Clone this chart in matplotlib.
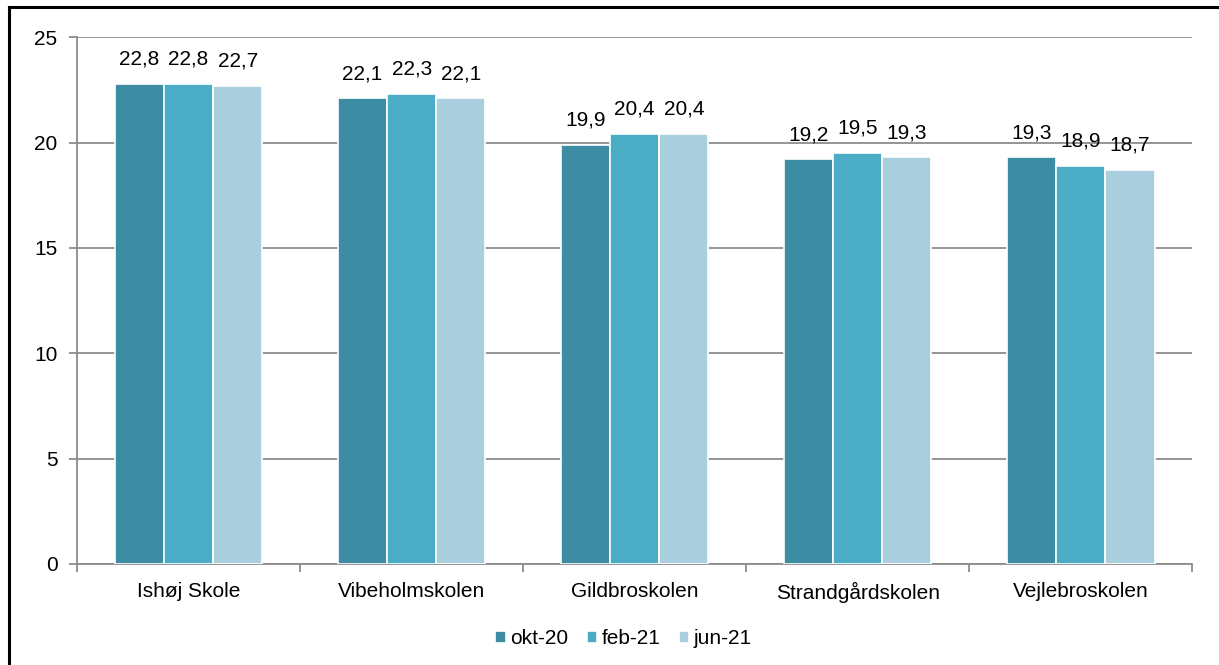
import numpy as np
import matplotlib
matplotlib.use("Agg")
import matplotlib.pyplot as plt
from matplotlib.lines import Line2D

plt.rcParams['font.family'] = ['Liberation Sans', 'DejaVu Sans']

schools = ['Ishøj Skole', 'Vibeholmskolen', 'Gildbroskolen', 'Strandgårdskolen', 'Vejlebroskolen']
periods = ['okt-20', 'feb-21', 'jun-21']
okt_20 = [22.8, 22.1, 19.9, 19.2, 19.3]
feb_21 = [22.8, 22.3, 20.4, 19.5, 18.9]
jun_21 = [22.7, 22.1, 20.4, 19.3, 18.7]
colors = ['#3c8ca3', '#4bacc6', '#a9cedd']

fig = plt.figure(figsize=(12.19, 6.65), dpi=100)
ax = fig.add_axes([0.0632, 0.152, 0.915, 0.792])

x = np.arange(len(schools))
width = 0.22
grid_col = '#8c8c8c'
fs = 15

for i, (vals, lbl) in enumerate(zip([okt_20, feb_21, jun_21], periods)):
    pos = x + (i - 1) * width
    bars = ax.bar(pos, vals, width, color=colors[i], edgecolor='white',
                  linewidth=1.2, label=lbl, zorder=3)
    for b, v in zip(bars, vals):
        ax.annotate(f'{v:.1f}'.replace('.', ','),
                    (b.get_x() + b.get_width() / 2, v),
                    xytext=(0, 11), textcoords='offset points',
                    ha='center', va='bottom', fontsize=fs)

ax.set_xlim(-0.5, len(schools) - 0.5)
ax.set_ylim(0, 25)
ax.set_yticks([0, 5, 10, 15, 20, 25])
ax.yaxis.grid(True, color=grid_col, linewidth=1.3, zorder=0)
ax.set_axisbelow(True)

ax.set_xticks(x)
ax.set_xticklabels(schools)
ax.set_xticks(np.arange(-0.5, len(schools)), minor=True)
ax.tick_params(axis='x', which='major', length=0, labelsize=fs, pad=13)
ax.tick_params(axis='x', which='minor', length=6, color=grid_col, width=1.3)
ax.tick_params(axis='y', length=6, color=grid_col, width=1.3, labelsize=fs, pad=8)

for s in ['top', 'right']:
    ax.spines[s].set_visible(False)
for s in ['left', 'bottom']:
    ax.spines[s].set_color(grid_col)
    ax.spines[s].set_linewidth(1.3)

ax.legend(loc='upper center', bbox_to_anchor=(0.49, -0.088), ncol=3,
          frameon=False, fontsize=fs, handlelength=0.5, handleheight=0.5,
          handletextpad=0.2, columnspacing=0.9)

# frame border around the figure (top and left edge visible)
fig.add_artist(Line2D([8.5 / 1219, 1.0], [1 - 6.5 / 665, 1 - 6.5 / 665],
                      transform=fig.transFigure, color='black', linewidth=2.2))
fig.add_artist(Line2D([8.5 / 1219, 8.5 / 1219], [0, 1 - 6.5 / 665],
                      transform=fig.transFigure, color='black', linewidth=2.2))

fig.savefig('out.png', dpi=100)
